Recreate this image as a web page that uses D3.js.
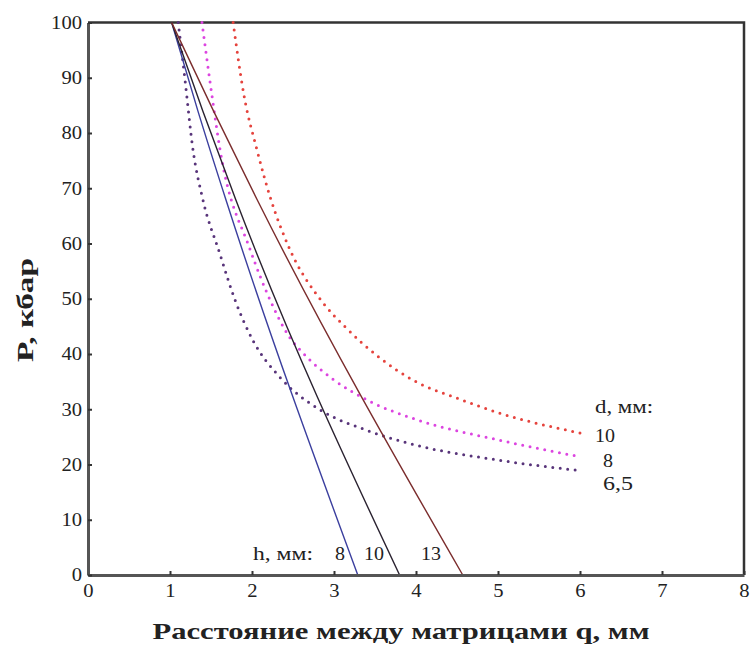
<!DOCTYPE html>
<html>
<head>
<meta charset="utf-8">
<script src="https://cdn.jsdelivr.net/npm/d3@7"></script>
<style>
  body { margin: 0; background: #fff; }
  svg text { font-family: "Liberation Serif", "Times New Roman", Times, serif; fill: #222; }
</style>
</head>
<body>
<script>
// Данные
var xTicks = [0, 1, 2, 3, 4, 5, 6, 7, 8];
var yTicks = [0, 10, 20, 30, 40, 50, 60, 70, 80, 90, 100];

// сплошные линии (h, мм)
var hNames = ["8", "10", "13"];
var lineP   = [100, 84, 68, 0];
var lineH8  = [1.02, 1.34, 1.68, 3.29];
var lineH10 = [1.02, 1.40, 1.80, 3.80];
var lineH13 = [1.02, 1.53, 2.06, 4.57];

// пунктирные кривые (d, мм)
var dNames = ["10", "8", "6,5"];
var d10Q = [1.77, 1.9, 2.06, 2.23, 2.43, 2.87, 3.13, 3.56, 3.96, 4.5, 5.02, 6.0];
var d10P = [100, 87, 77, 68, 60, 49.2, 45.0, 39.3, 35.3, 32, 29.3, 25.7];
var d8Q  = [1.39, 1.5, 1.61, 1.98, 2.22, 2.46, 2.62, 3.0, 3.4, 4.01, 5.02, 6.0];
var d8P  = [100, 88, 77, 58.8, 49.8, 43, 40.2, 35.3, 31.7, 28.1, 24.4, 21.4];
var d65Q = [1.10, 1.18, 1.28, 1.40, 1.6, 1.80, 2.01, 2.34, 2.83, 3.4, 4.0, 5.0, 6.0];
var d65P = [100, 90, 77, 68, 58.5, 49.5, 42.5, 35.8, 29.9, 26.2, 23.5, 20.8, 18.9];

var width = 752, height = 650;
var plotLeft = 88, plotRight = 744, plotTop = 22.5, plotBottom = 575;

var xScale = d3.scaleLinear().domain([0, 8]).range([plotLeft, plotRight]);
var yScale = d3.scaleLinear().domain([0, 100]).range([plotBottom, plotTop]);

var svg = d3.select("body").append("svg")
  .attr("width", width)
  .attr("height", height);

function zip(qs, ps) {
  return qs.map(function(q, i) { return [q, ps[i]]; });
}

// рамка сверху и справа
svg.append("path")
  .attr("d", "M" + plotLeft + "," + plotTop + "H" + plotRight + "V" + plotBottom)
  .attr("fill", "none")
  .attr("stroke", "#333")
  .attr("stroke-width", 2.5);

var curve = d3.line()
  .curve(d3.curveMonotoneX)
  .x(function(d) { return xScale(d[0]); })
  .y(function(d) { return yScale(d[1]); });

// пунктирные кривые
var dotted = [
  {pts: zip(d10Q, d10P), color: "#e5433d"},
  {pts: zip(d8Q, d8P), color: "#dc45e0"},
  {pts: zip(d65Q, d65P), color: "#58347a"}
];

svg.selectAll(".dcurve")
  .data(dotted)
  .enter()
  .append("path")
  .attr("class", "dcurve")
  .attr("fill", "none")
  .attr("stroke", function(d) { return d.color; })
  .attr("stroke-width", 3)
  .attr("stroke-linecap", "round")
  .attr("stroke-dasharray", "0,7.5")
  .attr("d", function(d) { return curve(d.pts); });

// сплошные линии
var solid = [
  {pts: zip(lineH8, lineP), color: "#3b3f9e"},
  {pts: zip(lineH10, lineP), color: "#2a2230"},
  {pts: zip(lineH13, lineP), color: "#7b2d2d"}
];

svg.selectAll(".hline")
  .data(solid)
  .enter()
  .append("path")
  .attr("class", "hline")
  .attr("fill", "none")
  .attr("stroke", function(d) { return d.color; })
  .attr("stroke-width", 1.4)
  .attr("d", function(d) { return curve(d.pts); });

// оси
var xAxis = d3.axisBottom(xScale)
  .tickValues(xTicks)
  .tickSizeInner(-4)
  .tickSizeOuter(0)
  .tickPadding(9);
var gx = svg.append("g")
  .attr("transform", "translate(0," + plotBottom + ")")
  .call(xAxis);

var yAxis = d3.axisLeft(yScale)
  .tickValues(yTicks)
  .tickSizeInner(-4)
  .tickSizeOuter(0)
  .tickPadding(6);
var gy = svg.append("g")
  .attr("transform", "translate(" + plotLeft + ",0)")
  .call(yAxis);

[gx, gy].forEach(function(g) {
  g.attr("font-family", null).attr("font-size", null);
  g.select(".domain").attr("stroke", "#555").attr("stroke-width", 3);
  g.selectAll(".tick line").attr("stroke", "#333").attr("stroke-width", 2);
  g.selectAll(".tick text")
    .attr("fill", "#222")
    .style("font-size", "18px")
    .attr("textLength", function(d) { return String(d).length * 10.3; })
    .attr("lengthAdjust", "spacingAndGlyphs");
});

// подписи осей
svg.append("text")
  .attr("x", 401)
  .attr("y", 639)
  .attr("text-anchor", "middle")
  .attr("font-weight", "bold")
  .attr("font-size", 24)
  .attr("textLength", 497)
  .attr("lengthAdjust", "spacingAndGlyphs")
  .text("Расстояние между матрицами q, мм");

svg.append("text")
  .attr("transform", "translate(33,310) rotate(-90)")
  .attr("text-anchor", "middle")
  .attr("font-weight", "bold")
  .attr("font-size", 24)
  .attr("textLength", 104)
  .attr("lengthAdjust", "spacingAndGlyphs")
  .text("P, кбар");

// подписи кривых
svg.append("text")
  .attr("x", 595).attr("y", 413)
  .attr("font-size", 18)
  .attr("textLength", 58)
  .attr("lengthAdjust", "spacingAndGlyphs")
  .text("d, мм:");

var dLabelX = [595, 603, 603];
var dLabelY = [442, 467, 490];
svg.selectAll(".dlab")
  .data(dNames)
  .enter()
  .append("text")
  .attr("class", "dlab")
  .attr("x", function(d, i) { return dLabelX[i]; })
  .attr("y", function(d, i) { return dLabelY[i]; })
  .attr("font-size", 18)
  .attr("textLength", function(d) { return d.length * 10; })
  .attr("lengthAdjust", "spacingAndGlyphs")
  .text(function(d) { return d; });

svg.append("text")
  .attr("x", 253).attr("y", 560)
  .attr("font-size", 18)
  .attr("textLength", 60)
  .attr("lengthAdjust", "spacingAndGlyphs")
  .text("h, мм:");

var hLabelX = [335, 364, 421];
svg.selectAll(".hlab")
  .data(hNames)
  .enter()
  .append("text")
  .attr("class", "hlab")
  .attr("x", function(d, i) { return hLabelX[i]; })
  .attr("y", 560)
  .attr("font-size", 18)
  .attr("textLength", function(d) { return d.length * 10; })
  .attr("lengthAdjust", "spacingAndGlyphs")
  .text(function(d) { return d; });
</script>
</body>
</html>
